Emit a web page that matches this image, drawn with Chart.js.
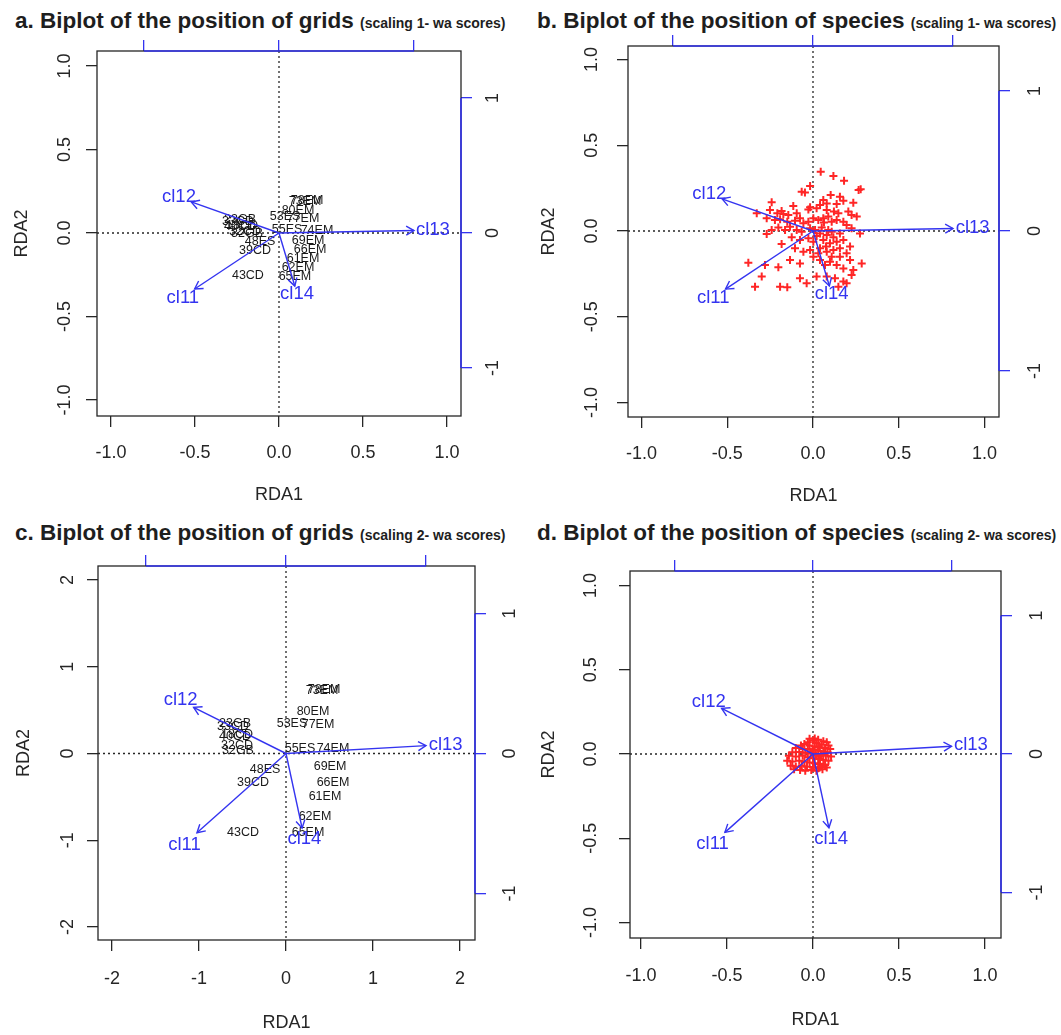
<!DOCTYPE html>
<html>
<head>
<meta charset="utf-8">
<script src="https://cdn.jsdelivr.net/npm/chart.js@4.4.0/dist/chart.umd.min.js"></script>
<style>
body{margin:0;background:#fff;width:1061px;height:1035px;position:relative;overflow:hidden;font-family:'Liberation Sans',Arial,sans-serif;}
canvas{position:absolute;}
.ttl{position:absolute;font-weight:bold;font-size:22.5px;line-height:23px;color:#1e1e1e;white-space:nowrap;}
.ttl span{font-size:14px;}
</style>
</head>
<body>
<div class="ttl" style="left:15px;top:9px">a. Biplot of the position of grids <span>(scaling 1- wa scores)</span></div>
<div class="ttl" style="left:537px;top:9px">b. Biplot of the position of species <span>(scaling 1- wa scores)</span></div>
<div class="ttl" style="left:15px;top:521px">c. Biplot of the position of grids <span>(scaling 2- wa scores)</span></div>
<div class="ttl" style="left:537px;top:521px">d. Biplot of the position of species <span>(scaling 2- wa scores)</span></div>

<canvas id="pa" width="530" height="520" style="left:0;top:0"></canvas>
<canvas id="pb" width="531" height="520" style="left:530px;top:0"></canvas>
<canvas id="pc" width="530" height="515" style="left:0;top:520px"></canvas>
<canvas id="pd" width="531" height="515" style="left:530px;top:520px"></canvas>

<script>
const FONT = "'Liberation Sans', Arial, sans-serif";
const BLUE = '#3434f0';
const INK = '#262626';
const RED = '#ff2626';

// grids (sites), wa scores
const siteNames = ['73EM','78EM','80EM','53ES','77EM','55ES','74EM','69EM','48ES','39CD','66EM',
  '61EM','62EM','65EM','43CD','23GB','33CD','40CD','18CD','32CD','32GB'];
const siteS1X = [0.155,0.167,0.113,0.036,0.143,0.048,0.226,0.173,-0.113,-0.143,0.185,
  0.143,0.113,0.095,-0.185,-0.232,-0.244,-0.232,-0.22,-0.202,-0.19];
const siteS1Y = [0.186,0.192,0.132,0.096,0.084,0.018,0.012,-0.048,-0.054,-0.108,-0.102,
  -0.15,-0.204,-0.263,-0.257,0.078,0.066,0.036,0.042,0.006,-0.006];
const siteS2X = [0.414,0.437,0.31,0.069,0.368,0.161,0.54,0.506,-0.241,-0.379,0.54,
  0.448,0.333,0.253,-0.494,-0.586,-0.609,-0.586,-0.563,-0.563,-0.552];
const siteS2Y = [0.73,0.741,0.489,0.35,0.328,0.052,0.052,-0.155,-0.19,-0.34,-0.34,
  -0.5,-0.73,-0.914,-0.914,0.35,0.316,0.19,0.213,0.086,0.029];

// constraining variables (biplot arrows)
const envNames = ['cl11','cl12','cl13','cl14'];
const envS1X = [-0.625,-0.65,1.0,0.117];
const envS1Y = [-0.415,0.23,0.018,-0.393];
const envS2X = [-0.636,-0.66,1.0,0.115];
const envS2Y = [-0.566,0.33,0.056,-0.533];

// species scores, scaling 1
const sppS1X = [0.045,0.119,0.181,0.266,0.278,-0.017,-0.066,-0.047,0.103,0.157,
  0.177,0.235,0.06,0.08,0.138,-0.241,-0.115,-0.183,-0.328,-0.251,
  -0.208,-0.173,-0.144,-0.095,-0.027,-0.017,0.021,0.041,0.08,0.122,
  0.148,0.206,0.225,0.255,-0.27,-0.222,-0.192,-0.15,-0.105,-0.076,
  -0.056,-0.027,0.002,0.031,0.06,0.089,0.109,0.138,0.177,0.196,
  0.225,0.274,0.157,0.119,0.08,0.041,0.012,-0.017,-0.066,-0.095,
  -0.134,-0.163,-0.202,-0.241,-0.27,-0.124,-0.076,-0.027,0.002,0.06,
  0.099,0.138,0.177,0.216,-0.183,-0.105,-0.056,-0.017,0.031,0.08,
  0.119,0.157,0.196,0.041,0.099,0.138,0.177,0.216,0.284,-0.377,
  -0.28,-0.202,-0.134,-0.076,-0.299,-0.338,-0.192,-0.15,-0.076,-0.037,
  0.021,0.08,0.128,0.148,0.177,0.196,0.225,0.235,
  0.051,0.089,0.064,0.021,0.109,0.076,0.041,0.109,0.07,0.002,0.157];
const sppS1Y = [0.346,0.321,0.293,0.239,0.243,0.262,0.229,0.225,0.21,0.2,
  0.177,0.165,0.181,0.161,0.157,0.167,0.146,0.117,0.103,0.122,
  0.103,0.099,0.093,0.103,0.126,0.138,0.132,0.152,0.122,0.113,
  0.103,0.113,0.093,0.084,0.074,0.064,0.068,0.054,0.06,0.074,
  0.045,0.054,0.074,0.064,0.074,0.084,0.054,0.064,0.054,0.035,
  0.016,-0.014,-0.014,-0.037,-0.023,-0.014,0.006,0.016,-0.004,0.006,
  0.025,0.006,0.021,0.006,-0.017,-0.037,-0.052,-0.043,-0.062,-0.052,
  -0.072,-0.062,-0.052,-0.091,-0.076,-0.101,-0.121,-0.111,-0.13,-0.121,
  -0.111,-0.101,-0.13,-0.169,-0.179,-0.198,-0.218,-0.169,-0.189,-0.185,
  -0.198,-0.212,-0.169,-0.189,-0.266,-0.325,-0.325,-0.328,-0.276,-0.305,
  -0.266,-0.266,-0.276,-0.325,-0.295,-0.305,-0.257,-0.227,
  0.021,0.006,0.049,-0.029,-0.004,-0.091,-0.101,-0.15,-0.198,-0.15,-0.15];

// species scores, scaling 2
const sppS2X = [0.0,0.03,0.06,0.08,-0.03,-0.05,0.02,0.05,0.09,-0.07,-0.02,0.01,0.04,0.07,0.1,
  -0.1,-0.06,-0.03,0.0,0.03,0.06,0.085,-0.12,-0.08,-0.045,-0.015,0.015,0.045,0.075,0.105,
  -0.14,-0.1,-0.06,-0.03,0.0,0.03,0.06,0.09,-0.15,-0.12,-0.08,-0.05,-0.02,0.01,0.04,0.07,
  -0.13,-0.1,-0.065,-0.035,0.0,0.03,0.055,-0.11,-0.075,-0.045,-0.01,0.02,0.045,0.08,
  -0.02,0.01,0.02,0.05,-0.01,0.03,0.04];
const sppS2Y = [0.08,0.085,0.075,0.07,0.07,0.06,0.065,0.055,0.05,0.05,0.05,0.045,0.04,0.035,0.03,
  0.035,0.03,0.03,0.025,0.02,0.015,0.01,0.01,0.012,0.008,0.005,0.0,-0.005,-0.01,-0.015,
  -0.01,-0.015,-0.01,-0.02,-0.025,-0.03,-0.035,-0.04,-0.04,-0.045,-0.04,-0.045,-0.05,-0.055,-0.06,-0.065,
  -0.07,-0.075,-0.07,-0.075,-0.08,-0.085,-0.09,-0.09,-0.095,-0.1,-0.095,-0.1,-0.075,-0.08,
  0.09,0.092,-0.01,0.0,0.01,0.04,-0.03];

// panel geometry (page pixels)
const panelA = {id:'pa', cv:[0,0,530,520], box:[97,51,461,416], org:[279,233], unit:[168,167], blue:[135,135],
  step:0.5, dec:1, yLab:32, y2Lab:32, yTitle:22, xTitle:495, xPad:15};
const panelB = {id:'pb', cv:[530,0,531,520], box:[628,46,999,417], org:[813,231], unit:[171.5,171.5], blue:[140,140],
  step:0.5, dec:1, yLab:36, y2Lab:36, yTitle:549, xTitle:496, xPad:15};
const panelC = {id:'pc', cv:[0,520,530,515], box:[98,566,475,940], org:[286,753.5], unit:[87,86.75], blue:[140,140],
  step:1, dec:0, yLab:30, y2Lab:35, yTitle:24, xTitle:1023, xPad:17};
const panelD = {id:'pd', cv:[530,520,531,515], box:[630,571,1001,938], org:[813,754], unit:[172,168.5], blue:[138.5,138.5],
  step:0.5, dec:1, yLab:39, y2Lab:36, yTitle:549, xTitle:1020, xPad:16};

function fmt(v, d) {
  if (Math.abs(v) < 1e-9) v = 0;
  return v.toFixed(d);
}

const biplotDecor = {
  id: 'biplotDecor',
  beforeDatasetsDraw(chart, args, o) {
    const {ctx, chartArea: a, scales: {x, y}} = chart;
    ctx.save();
    ctx.strokeStyle = INK;
    ctx.lineWidth = 1.3;
    ctx.setLineDash([2, 3]);
    const x0 = x.getPixelForValue(0), y0 = y.getPixelForValue(0);
    ctx.beginPath();
    ctx.moveTo(a.left, y0); ctx.lineTo(a.right, y0);
    ctx.moveTo(x0, a.top); ctx.lineTo(x0, a.bottom);
    ctx.stroke();
    ctx.restore();
    // site names under the arrows
    chart.data.datasets.forEach((ds, i) => {
      if (!ds.textLabels) return;
      const meta = chart.getDatasetMeta(i);
      ctx.save();
      ctx.fillStyle = '#1a1a1a';
      ctx.font = '12.5px ' + FONT;
      ctx.textAlign = 'center';
      ctx.textBaseline = 'middle';
      meta.data.forEach((el, j) => ctx.fillText(ds.textLabels[j], el.x, el.y));
      ctx.restore();
    });
  },
  afterDatasetsDraw(chart) {
    const ctx = chart.ctx;
    const x2 = chart.scales.x2, y2 = chart.scales.y2;
    chart.data.datasets.forEach((ds, i) => {
      if (!ds.arrowLabel) return;
      const meta = chart.getDatasetMeta(i);
      const p0 = meta.data[0], p1 = meta.data[1];
      const ang = Math.atan2(p1.y - p0.y, p1.x - p0.x);
      const L = 9, w = Math.PI / 6;
      ctx.save();
      ctx.strokeStyle = BLUE;
      ctx.lineWidth = 1.4;
      ctx.beginPath();
      ctx.moveTo(p1.x - L * Math.cos(ang - w), p1.y - L * Math.sin(ang - w));
      ctx.lineTo(p1.x, p1.y);
      ctx.lineTo(p1.x - L * Math.cos(ang + w), p1.y - L * Math.sin(ang + w));
      ctx.stroke();
      const tip = ds.data[1];
      ctx.fillStyle = BLUE;
      ctx.font = '18.5px ' + FONT;
      ctx.textAlign = 'center';
      ctx.textBaseline = 'middle';
      ctx.fillText(ds.arrowLabel, x2.getPixelForValue(tip.x * 1.14), y2.getPixelForValue(tip.y * 1.15));
      ctx.restore();
    });
  },
  afterDraw(chart, args, o) {
    const {ctx, chartArea: a, scales: {y, x2, y2}} = chart;
    ctx.save();
    // box
    ctx.strokeStyle = INK;
    ctx.lineWidth = 1.3;
    ctx.strokeRect(a.left, a.top, a.right - a.left, a.bottom - a.top);
    // blue arrow-scale axes, drawn from -1 to 1 only
    ctx.strokeStyle = BLUE;
    ctx.lineWidth = 1.6;
    ctx.beginPath();
    ctx.moveTo(x2.getPixelForValue(-1), a.top); ctx.lineTo(x2.getPixelForValue(1), a.top);
    ctx.moveTo(a.right, y2.getPixelForValue(1)); ctx.lineTo(a.right, y2.getPixelForValue(-1));
    ctx.stroke();
    // rotated tick labels on the left and right axes
    ctx.fillStyle = INK;
    ctx.font = '18px ' + FONT;
    ctx.textAlign = 'center';
    ctx.textBaseline = 'middle';
    y.ticks.forEach(t => {
      ctx.save();
      ctx.translate(a.left - o.yLab, y.getPixelForValue(t.value));
      ctx.rotate(-Math.PI / 2);
      ctx.fillText(fmt(t.value, o.dec), 0, 0);
      ctx.restore();
    });
    y2.ticks.forEach(t => {
      ctx.save();
      ctx.translate(a.right + o.y2Lab, y2.getPixelForValue(t.value));
      ctx.rotate(-Math.PI / 2);
      ctx.fillText(fmt(t.value, 0), 0, 0);
      ctx.restore();
    });
    // axis titles
    ctx.fillText('RDA1', (a.left + a.right) / 2, o.xTitle - o.cv[1]);
    ctx.save();
    ctx.translate(o.yTitle - o.cv[0], (a.top + a.bottom) / 2);
    ctx.rotate(-Math.PI / 2);
    ctx.fillText('RDA2', 0, 0);
    ctx.restore();
    ctx.restore();
  }
};

function arrowSets(xs, ys) {
  return envNames.map((n, i) => ({
    type: 'line', xAxisID: 'x2', yAxisID: 'y2',
    data: [{x: 0, y: 0}, {x: xs[i], y: ys[i]}],
    borderColor: BLUE, borderWidth: 1.4, pointRadius: 0, fill: false, arrowLabel: n
  }));
}
function siteSet(xs, ys) {
  return {type: 'scatter', data: xs.map((v, i) => ({x: v, y: ys[i]})), pointRadius: 0, textLabels: siteNames};
}
function speciesSet(xs, ys) {
  return {type: 'scatter', data: xs.map((v, i) => ({x: v, y: ys[i]})),
    pointStyle: 'cross', pointRadius: 4, borderColor: RED, borderWidth: 2, pointHoverRadius: 4};
}

function makePanel(p, datasets) {
  const [cl, ct, cw, ch] = p.cv;
  const [bl, bt, br, bb] = p.box;
  const [ox, oy] = p.org;
  const xr = [(bl - ox) / p.unit[0], (br - ox) / p.unit[0]];
  const yr = [(oy - bb) / p.unit[1], (oy - bt) / p.unit[1]];
  const x2r = [(bl - ox) / p.blue[0], (br - ox) / p.blue[0]];
  const y2r = [(oy - bb) / p.blue[1], (oy - bt) / p.blue[1]];
  const tickGrid = c => ({drawOnChartArea: false, drawTicks: true, tickLength: 11, color: c, lineWidth: 1.3});
  new Chart(document.getElementById(p.id), {
    type: 'scatter',
    data: {datasets},
    options: {
      responsive: false,
      animation: false,
      devicePixelRatio: 1,
      layout: {padding: 0},
      plugins: {legend: {display: false}, tooltip: {enabled: false}, biplotDecor: p},
      scales: {
        x: {type: 'linear', position: 'bottom', min: xr[0], max: xr[1],
          afterFit: s => { s.height = ct + ch - bb; },
          ticks: {stepSize: p.step, includeBounds: false, autoSkip: false, maxRotation: 0, padding: p.xPad,
            color: INK, font: {family: FONT, size: 18}, callback: v => fmt(v, p.dec)},
          grid: tickGrid(INK), border: {display: false}},
        y: {type: 'linear', position: 'left', min: yr[0], max: yr[1],
          afterFit: s => { s.width = bl - cl; },
          ticks: {stepSize: p.step, includeBounds: false, display: false},
          grid: tickGrid(INK), border: {display: false}},
        x2: {type: 'linear', position: 'top', min: x2r[0], max: x2r[1],
          afterFit: s => { s.height = bt - ct; },
          ticks: {stepSize: 1, includeBounds: false, display: false},
          grid: tickGrid(BLUE), border: {display: false}},
        y2: {type: 'linear', position: 'right', min: y2r[0], max: y2r[1],
          afterFit: s => { s.width = cl + cw - br; },
          ticks: {stepSize: 1, includeBounds: false, display: false},
          grid: tickGrid(BLUE), border: {display: false}}
      }
    },
    plugins: [biplotDecor]
  });
}

makePanel(panelA, [...arrowSets(envS1X, envS1Y), siteSet(siteS1X, siteS1Y)]);
makePanel(panelB, [...arrowSets(envS1X, envS1Y), speciesSet(sppS1X, sppS1Y)]);
makePanel(panelC, [...arrowSets(envS2X, envS2Y), siteSet(siteS2X, siteS2Y)]);
makePanel(panelD, [...arrowSets(envS2X, envS2Y), speciesSet(sppS2X, sppS2Y)]);
</script>
</body>
</html>
